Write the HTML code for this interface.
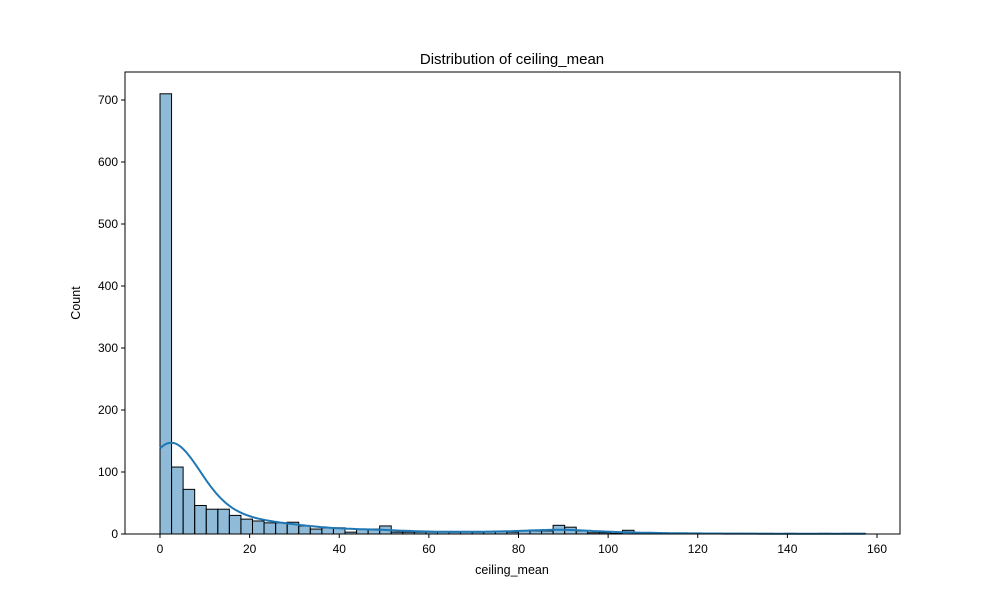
<!DOCTYPE html>
<html><head><meta charset="utf-8"><style>body{margin:0;background:#fff}svg{font-family:"Liberation Sans","DejaVu Sans",sans-serif}</style></head>
<body>
<svg id="c" width="1000" height="600"></svg>
<script>
const binWidth = 2.58;
const counts = [710,108,72,46,40,40,30,24,21,18,18,19,13,8,10,10,3,8,8,13,3,3,3,3,4,3,4,3,4,4,3,5,5,5,14,11,5,2,2,1,6,2,1,1,1,1,1,1,0,1,1,0,1,0,1,0,0,1,0,1,1];
const xTicks = [0,20,40,60,80,100,120,140,160];
const yTicks = [0,100,200,300,400,500,600,700];
const bandwidth = 6.4;
const L=125,R=900,T=72,B=534;
const xs=v=>160+v*(717/160);
const ys=v=>534-v*(434/700);
const svg=document.getElementById('c');
const NS='http://www.w3.org/2000/svg';
function mk(t,a,txt){const e=document.createElementNS(NS,t);for(const k in a)e.setAttribute(k,a[k]);if(txt!=null)e.textContent=txt;svg.appendChild(e);return e;}
counts.forEach((c,i)=>{
 const r=mk('rect',{x:xs(i*binWidth),y:ys(c),width:xs((i+1)*binWidth)-xs(i*binWidth),height:ys(0)-ys(c),fill:'rgba(31,119,180,0.5)',stroke:'#000','stroke-width':1});
 
 
});
let pts=[];const xmax=counts.length*binWidth;
for(let k=0;k<=300;k++){const x=k/300*xmax;let s=0;
 counts.forEach((c,i)=>{const m=(i+0.5)*binWidth;s+=c*Math.exp(-0.5*((x-m)/bandwidth)**2);});
 s=s*binWidth/(Math.sqrt(2*Math.PI)*bandwidth);pts.push(xs(x).toFixed(1)+','+ys(s).toFixed(1));}
const kde=mk('polyline',{points:pts.join(' '),fill:'none',stroke:'#1f77b4','stroke-width':2});


const fr=mk('rect',{x:L,y:T,width:R-L,height:B-T,fill:'none',stroke:'#000','stroke-width':1});


xTicks.forEach(v=>{mk('line',{x1:xs(v),x2:xs(v),y1:B,y2:B+4,stroke:'#000'});
 const t=mk('text',{x:xs(v),y:B+19,'text-anchor':'middle','font-size':12},v);
 
 });
yTicks.forEach(v=>{mk('line',{x1:L-4,x2:L,y1:ys(v),y2:ys(v),stroke:'#000'});
 const t=mk('text',{x:L-7,y:ys(v)+4,'text-anchor':'end','font-size':12},v);
 
 });
let t=mk('text',{x:512,y:64,'text-anchor':'middle','font-size':15},'Distribution of ceiling_mean');


t=mk('text',{x:512,y:574,'text-anchor':'middle','font-size':12.5},'ceiling_mean');


t=mk('text',{x:80,y:303,'text-anchor':'middle','font-size':12.5,transform:'rotate(-90 80 303)'},'Count');


</script>
</body></html>
